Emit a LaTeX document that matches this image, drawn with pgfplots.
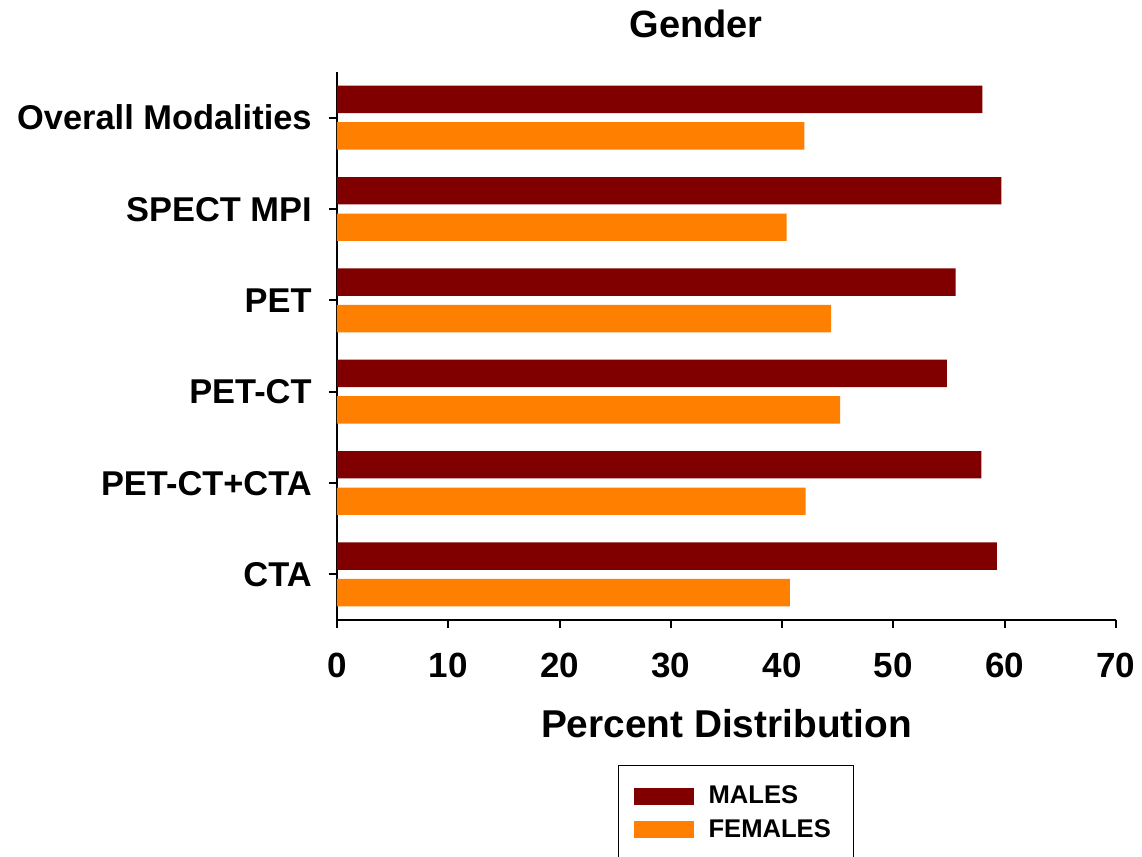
\documentclass[border=0pt]{standalone}
\usepackage{fontspec}
\setmainfont{Liberation Sans}
\usepackage{pgfplots}
\pgfplotsset{compat=1.18}
\definecolor{males}{HTML}{800000}
\definecolor{females}{HTML}{FF8000}
\begin{document}
\begin{tikzpicture}
\begin{axis}[
  at={(0,0)}, anchor=south west,
  scale only axis, width=389.5pt, height=274pt,
  xmin=0, xmax=70, ymin=-0.5, ymax=5.5,
  xtick={0,10,...,70},
  ytick={0,...,5},
  yticklabels={CTA, PET-CT+CTA, PET-CT, PET, SPECT MPI, Overall Modalities},
  axis lines*=left,
  axis line style={line width=1pt},
  tick style={black, line width=1pt},
  tick align=outside,
  major tick length=4pt,
  /pgf/number format/assume math mode=true,
  xticklabel style={anchor=base, yshift=-24.5pt, inner sep=0pt, font=\bfseries\fontsize{17.5}{20}\selectfont},
  yticklabel style={anchor=base east, xshift=-8.5pt, yshift=-6.1pt, inner sep=0pt, font=\bfseries\fontsize{17.2}{20}\selectfont},
  title={Gender},
  title style={at={(0.4608,1)}, anchor=base, yshift=11pt, inner sep=0pt, font=\bfseries\fontsize{19}{22}\selectfont},
  xlabel={Percent Distribution},
  xlabel style={at={(0.5,0)}, anchor=base, yshift=-58.5pt, inner sep=0pt, font=\bfseries\fontsize{19.4}{22}\selectfont},
  xbar, bar width=0.3,
  legend image code/.code={\path[#1] (0pt,-4.25pt) rectangle (30pt,4.25pt);},
  legend style={at={(0.3607,-0.2646)}, anchor=north west, draw=black, line width=0.6pt,
    inner xsep=7.5pt, inner ysep=10pt, row sep=6.5pt, column sep=7.5pt,
    nodes={inner sep=0pt},
    font=\bfseries\fontsize{12.8}{15}\selectfont},
  legend cell align=left,
]
\addplot[fill=males, draw=none, bar shift=0.2] coordinates {
  (59.3,0) (57.9,1) (54.8,2) (55.6,3) (59.7,4) (58.0,5)};
\addlegendentry{\makebox[65pt][l]{MALES}}
\addplot[fill=females, draw=none, bar shift=-0.2] coordinates {
  (40.7,0) (42.1,1) (45.2,2) (44.4,3) (40.4,4) (42.0,5)};
\addlegendentry{\makebox[65pt][l]{FEMALES}}
\addlegendimage{empty legend}
\addlegendentry{}
\end{axis}
\pgfresetboundingbox
\useasboundingbox (-168.5pt,-118.5pt) rectangle (402.5pt,310pt);
\end{tikzpicture}
\end{document}
